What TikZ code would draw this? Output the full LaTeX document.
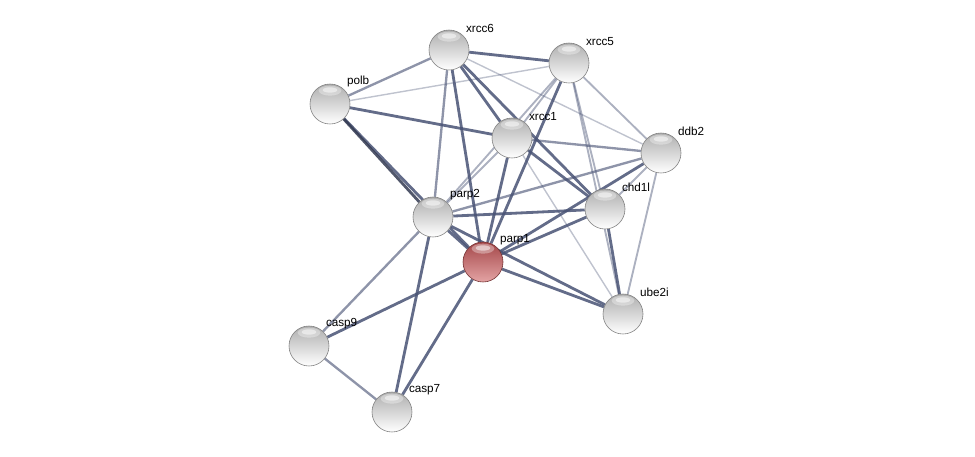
\documentclass[tikz,border=0pt]{standalone}
\usepackage{fontspec}
\setmainfont{Liberation Sans}
\usetikzlibrary{backgrounds}
\definecolor{edgeblue}{RGB}{72,82,116}
\definecolor{parpred}{RGB}{205,88,90}
\tikzset{
  % glossy sphere: gray top, light bottom, soft white highlight
  protein/.style={circle, minimum size=1.2cm, inner sep=0pt, draw=black!50, line width=0.5pt,
    top color=black!32, middle color=black!15, bottom color=white,
    path picture={
      \fill[white, opacity=0.35] ([yshift=-0.2cm]path picture bounding box.north) ellipse (0.34cm and 0.15cm);
      \fill[white, opacity=0.5] ([yshift=-0.18cm]path picture bounding box.north) ellipse (0.22cm and 0.08cm);}},
  query/.style={protein, draw=parpred!55!black,
    top color=parpred!80!black, middle color=parpred, bottom color=parpred!55!white},
  lbl/.style={font=\fontsize{10}{11}\selectfont, inner sep=1pt, anchor=south west, label distance=1.5pt},
  strong/.style={edgeblue, line width=2.4pt, opacity=0.85},
  medium/.style={edgeblue, line width=2pt, opacity=0.62},
  weak/.style={edgeblue, line width=1.6pt, opacity=0.45},
  faint/.style={edgeblue, line width=1.2pt, opacity=0.35}
}
\begin{document}
\begin{tikzpicture}[x=0.03cm, y=-0.03cm]
\useasboundingbox (0,0) rectangle (975,457);
% Proteins
\node[protein, label={[lbl]45:xrcc6}] (xrcc6) at (449,50) {};
\node[protein, label={[lbl]45:xrcc5}] (xrcc5) at (569,63) {};
\node[protein, label={[lbl]45:polb}] (polb) at (330,104) {};
\node[protein, label={[lbl]45:xrcc1}] (xrcc1) at (512,138) {};
\node[protein, label={[lbl]45:ddb2}] (ddb2) at (661,153) {};
\node[protein, label={[lbl]45:chd1l}] (chd1l) at (605,209) {};
\node[protein, label={[lbl]45:parp2}] (parp2) at (433,217) {};
\node[query, label={[lbl]45:parp1}] (parp1) at (483,262) {};
\node[protein, label={[lbl]45:ube2i}] (ube2i) at (623,314) {};
\node[protein, label={[lbl]45:casp9}] (casp9) at (309,346) {};
\node[protein, label={[lbl]45:casp7}] (casp7) at (392,412) {};
% Interactions, drawn behind the spheres
\begin{pgfonlayer}{background}
% low confidence
\foreach \a/\b in {polb/xrcc5, xrcc6/ddb2, xrcc1/ube2i}
  \draw[faint] (\a) -- (\b);
\foreach \a/\b in {xrcc5/ddb2, xrcc5/chd1l, xrcc5/ube2i, ddb2/chd1l, ddb2/ube2i, xrcc1/parp2, xrcc5/parp2, xrcc5/xrcc1}
  \draw[weak] (\a) -- (\b);
% medium confidence
\foreach \a/\b in {xrcc6/polb, xrcc6/parp2, ddb2/parp2, xrcc1/ddb2, parp2/casp9, casp9/casp7}
  \draw[medium] (\a) -- (\b);
% high confidence
\foreach \a/\b in {xrcc6/xrcc5, xrcc6/xrcc1, xrcc6/chd1l, xrcc6/parp1, polb/xrcc1, polb/parp1, xrcc5/parp1, xrcc1/parp1, xrcc1/chd1l, parp2/parp1, parp2/chd1l, parp1/chd1l, parp1/ddb2, chd1l/ube2i, parp1/ube2i, parp2/ube2i, parp2/casp7, parp1/casp9, parp1/casp7}
  \draw[strong] (\a) -- (\b);
\draw[strong, edgeblue!70!black] (polb) -- (parp2);
\end{pgfonlayer}
\end{tikzpicture}
\end{document}
